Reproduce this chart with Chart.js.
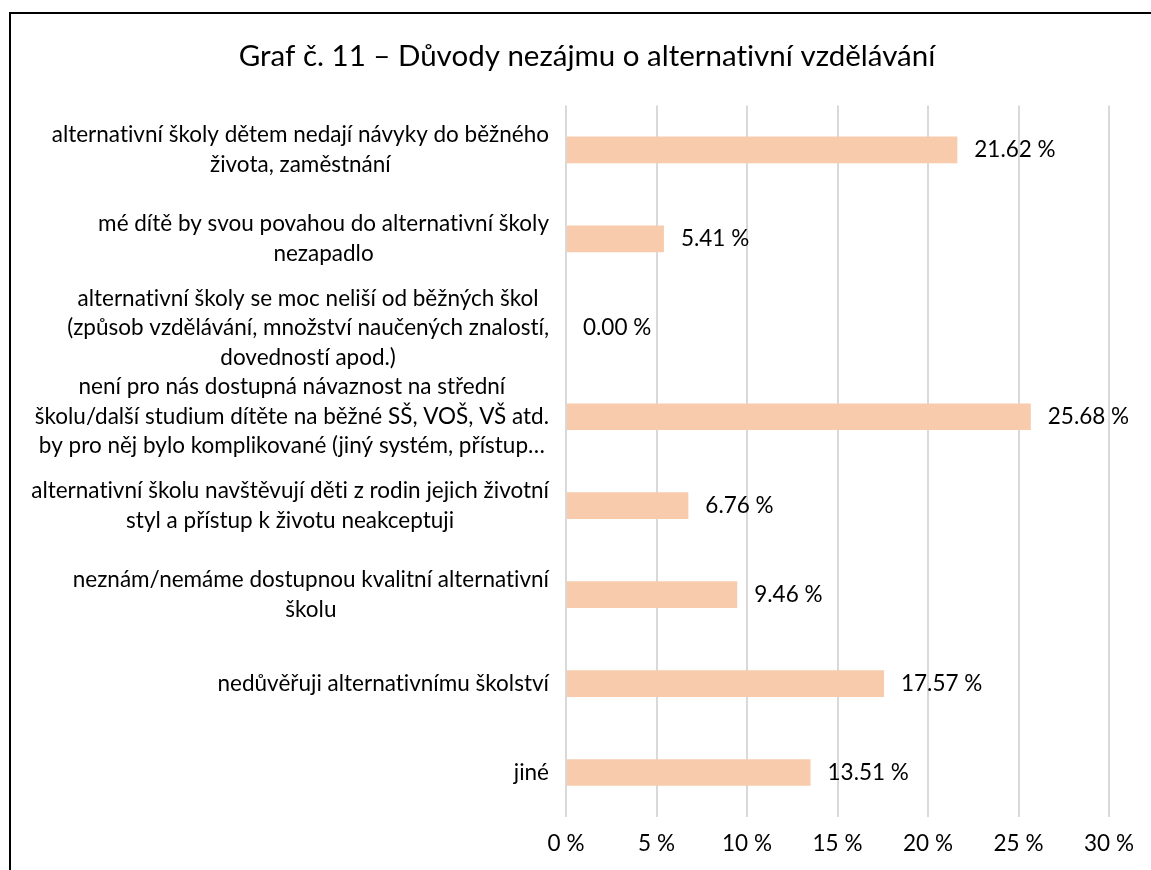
<!DOCTYPE html>
<html>
<head>
<meta charset="utf-8">
<script src="https://cdn.jsdelivr.net/npm/chart.js@4/dist/chart.umd.min.js"></script>
<style>
    html, body { margin: 0; padding: 0; background: #fff; }
    #wrap { width: 1151px; height: 870px; position: relative; }
</style>
</head>
<body>
<div id="wrap"><canvas id="chart"></canvas></div>
<script>
// data
const chartTitle = "Graf č. 11 – Důvody nezájmu o alternativní vzdělávání";

const categories = [
    ["alternativní školy dětem nedají návyky do běžného", "života, zaměstnání"],
    ["mé dítě by svou povahou do alternativní školy", "nezapadlo"],
    ["alternativní školy se moc neliší od běžných škol", "(způsob vzdělávání, množství naučených znalostí,", "dovedností apod.)"],
    ["není pro nás dostupná návaznost na střední", "školu/další studium dítěte na běžné SŠ, VOŠ, VŠ atd.", "by pro něj bylo komplikované (jiný systém, přístup…"],
    ["alternativní školu navštěvují děti z rodin jejich životní", "styl a přístup k životu neakceptuji"],
    ["neznám/nemáme dostupnou kvalitní alternativní", "školu"],
    ["nedůvěřuji alternativnímu školství"],
    ["jiné"]
];

const values = [21.62, 5.41, 0.00, 25.68, 6.76, 9.46, 17.57, 13.51];

const xMin = 0;
const xMax = 30;
const xStep = 5;

const FONT_FAMILY = "Lato, 'Open Sans', sans-serif";
const FONT_SIZE = 22.5;
const LABEL_FONT = FONT_SIZE + "px " + FONT_FAMILY;
const LINE_H = 29.5;

// black frame around the whole figure (cut off at right and bottom)
const framePlugin = {
    id: "frame",
    beforeDraw(chart) {
        // no "ti" ligatures, closer to the original Calibri look
        chart.ctx.textRendering = "optimizeSpeed";
    },
    afterDraw(chart) {
        const ctx = chart.ctx;
        ctx.save();
        ctx.strokeStyle = "#000";
        ctx.lineWidth = 2;
        ctx.strokeRect(10, 13, 1300, 1000);
        ctx.restore();
    }
};

// category labels: lines centred inside their own block, block right-aligned
const categoryLabelsPlugin = {
    id: "categoryLabels",
    afterDraw(chart) {
        const ctx = chart.ctx;
        const yScale = chart.scales.y;
        const right = chart.chartArea.left - 17;
        ctx.save();
        ctx.font = LABEL_FONT;
        ctx.fillStyle = "#000";
        ctx.textAlign = "center";
        ctx.textBaseline = "middle";
        chart.data.labels.forEach((lines, i) => {
            const cy = yScale.getPixelForTick(i);
            const w = Math.max(...lines.map(l => ctx.measureText(l).width));
            const cx = right - w / 2;
            lines.forEach((line, j) => {
                ctx.fillText(line, cx, cy + (j - (lines.length - 1) / 2) * LINE_H);
            });
        });
        ctx.restore();
    }
};

// value labels at the end of each bar
const valueLabelsPlugin = {
    id: "valueLabels",
    afterDatasetsDraw(chart) {
        const ctx = chart.ctx;
        const meta = chart.getDatasetMeta(0);
        ctx.save();
        ctx.font = LABEL_FONT;
        ctx.fillStyle = "#000";
        ctx.textAlign = "left";
        ctx.textBaseline = "middle";
        meta.data.forEach((bar, i) => {
            ctx.fillText(chart.data.datasets[0].data[i].toFixed(2) + " %", bar.x + 17, bar.y);
        });
        ctx.restore();
    }
};

const chart = new Chart(document.getElementById("chart"), {
    type: "bar",
    plugins: [framePlugin, categoryLabelsPlugin, valueLabelsPlugin],
    data: {
        labels: categories,
        datasets: [{
            data: values,
            backgroundColor: "#F7CBAC",
            borderWidth: 0,
            barPercentage: 1,
            categoryPercentage: 0.3
        }]
    },
    options: {
        indexAxis: "y",
        responsive: true,
        maintainAspectRatio: false,
        animation: false,
        layout: { padding: { left: 65, right: 42, top: 0, bottom: 0 } },
        scales: {
            x: {
                min: xMin,
                max: xMax,
                ticks: {
                    stepSize: xStep,
                    color: "#000",
                    padding: 13,
                    font: { family: FONT_FAMILY, size: FONT_SIZE },
                    callback: v => v + " %"
                },
                grid: { color: "#D9D9D9", lineWidth: 2, drawTicks: false },
                border: { display: false }
            },
            y: {
                ticks: { display: false },
                grid: { display: false },
                border: { display: false },
                afterFit(scale) { scale.width = 501; }
            }
        },
        plugins: {
            legend: { display: false },
            tooltip: { enabled: false },
            title: {
                display: true,
                text: chartTitle,
                color: "#000",
                font: { family: FONT_FAMILY, size: 29.5, weight: "normal" },
                padding: { top: 39, bottom: 31 }
            }
        }
    }
});
</script>
</body>
</html>
